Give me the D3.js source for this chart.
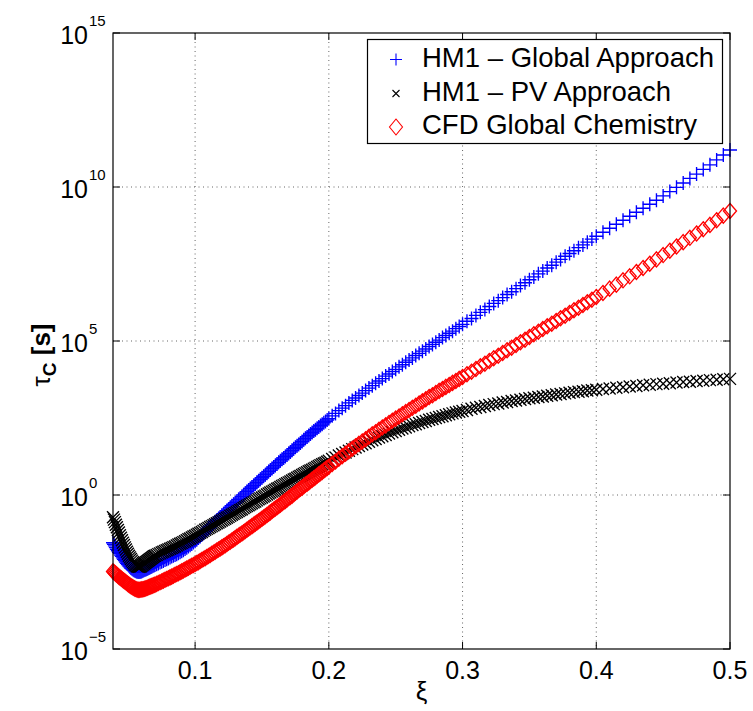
<!DOCTYPE html>
<html><head><meta charset="utf-8">
<script src="https://cdn.jsdelivr.net/npm/d3@7"></script>
<style>body{margin:0;background:#fff;} text{font-family:"Liberation Sans",Arial,Helvetica,sans-serif;}</style>
</head><body><svg id="chart" width="753" height="711"></svg>
<script>
// mixture fraction grid (shared by all series)
const xi = [
0.0386,0.0393,0.040,0.04075,0.0415,0.04225,0.043,0.04375,0.0445,0.04525,0.046,0.04675,0.0475,0.04825,0.049,0.04975,
0.0505,0.05125,0.052,0.05275,0.0535,0.05425,0.055,0.05575,0.0565,0.05725,0.058,0.05875,0.0595,0.06025,0.061,0.06175,
0.0625,0.06325,0.064,0.06475,0.0655,0.06625,0.067,0.06775,0.0685,0.06925,0.070,
0.07125,0.0725,0.07375,0.075,0.07625,0.0775,0.07875,0.080,
0.08125,0.0825,0.08375,0.085,0.08625,0.0875,0.08875,0.090,
0.09125,0.0925,0.09375,0.095,0.09625,0.0975,0.09875,0.100,
0.10125,0.1025,0.10375,0.105,0.10625,0.1075,0.10875,0.110,
0.11125,0.1125,0.11375,0.115,0.11625,0.1175,0.11875,0.120,
0.12125,0.1225,0.12375,0.125,0.12625,0.1275,0.12875,0.130,
0.13125,0.1325,0.13375,0.135,0.13625,0.1375,0.13875,0.140,
0.14125,0.1425,0.14375,0.145,0.14625,0.1475,0.14875,0.150,
0.15125,0.1525,0.15375,0.155,0.15625,0.1575,0.15875,0.160,
0.16125,0.1625,0.16375,0.165,0.16625,0.1675,0.16875,0.170,
0.17125,0.1725,0.17375,0.175,0.17625,0.1775,0.17875,0.180,
0.18125,0.1825,0.18375,0.185,0.18625,0.1875,0.18875,0.190,
0.19125,0.1925,0.19375,0.195,0.19625,0.1975,0.19875,0.200,
0.2025,0.205,0.2075,0.210,0.2125,0.215,0.2175,0.220,
0.2225,0.225,0.2275,0.230,0.2325,0.235,0.2375,0.240,0.2425,0.245,0.2475,0.250,
0.2525,0.255,0.2575,0.260,0.2625,0.265,0.2675,0.270,0.2725,0.275,0.2775,0.280,
0.2825,0.285,0.2875,0.290,0.2925,0.295,0.2975,0.300,
0.3033,0.3067,0.310,0.3133,0.3167,0.320,0.3233,0.3267,0.330,0.3333,0.3367,0.340,
0.3433,0.3467,0.350,0.3533,0.3567,0.360,0.3633,0.3667,0.370,0.3733,0.3767,0.380,
0.3833,0.3867,0.390,0.3933,0.3967,0.400,
0.405,0.410,0.415,0.420,0.425,0.430,0.435,0.440,0.445,0.450,0.455,0.460,0.465,0.470,0.475,0.480,0.485,0.490,0.495,0.500
];
// log10 of tau_C [s], HM1 global approach
const logTauGlobal = [
-1.55,-1.60,-1.65,-1.705,-1.76,-1.81,-1.86,-1.905,-1.95,-1.995,-2.04,-2.085,-2.13,-2.175,-2.22,-2.26,
-2.30,-2.335,-2.37,-2.395,-2.42,-2.44,-2.46,-2.475,-2.49,-2.495,-2.50,-2.495,-2.49,-2.475,-2.46,-2.445,
-2.43,-2.415,-2.40,-2.385,-2.37,-2.355,-2.34,-2.32,-2.30,-2.285,-2.27,
-2.245,-2.22,-2.195,-2.17,-2.14,-2.11,-2.085,-2.06,
-2.03,-2.00,-1.975,-1.95,-1.92,-1.89,-1.86,-1.83,
-1.79,-1.75,-1.71,-1.67,-1.63,-1.59,-1.545,-1.50,
-1.45,-1.40,-1.345,-1.29,-1.24,-1.19,-1.135,-1.08,
-1.03,-0.98,-0.925,-0.87,-0.82,-0.77,-0.715,-0.66,
-0.61,-0.56,-0.51,-0.46,-0.405,-0.35,-0.30,-0.25,
-0.20,-0.15,-0.10,-0.05,0.005,0.06,0.11,0.16,
0.21,0.26,0.31,0.36,0.41,0.46,0.51,0.56,
0.61,0.66,0.71,0.76,0.81,0.86,0.91,0.96,
1.01,1.06,1.11,1.16,1.205,1.25,1.30,1.35,
1.40,1.45,1.50,1.55,1.595,1.64,1.69,1.74,
1.79,1.84,1.885,1.93,1.98,2.03,2.075,2.12,
2.165,2.21,2.255,2.30,2.345,2.39,2.435,2.48,
2.57,2.65,2.74,2.82,2.90,2.99,3.07,3.15,
3.23,3.31,3.39,3.47,3.55,3.63,3.70,3.78,3.86,3.93,4.01,4.08,
4.16,4.23,4.31,4.38,4.45,4.53,4.60,4.67,4.74,4.82,4.89,4.96,
5.03,5.11,5.18,5.25,5.32,5.40,5.47,5.54,
5.64,5.73,5.83,5.93,6.02,6.12,6.22,6.31,6.41,6.51,6.60,6.70,
6.80,6.89,6.99,7.08,7.18,7.27,7.37,7.46,7.56,7.65,7.75,7.84,
7.93,8.03,8.12,8.21,8.31,8.40,
8.53,8.66,8.79,8.92,9.05,9.18,9.31,9.44,9.57,9.71,9.85,9.99,10.13,10.28,10.42,10.57,10.72,10.88,11.04,11.20
];
// HM1 PV approach
const logTauPV = [
-0.72,-0.80,-0.88,-0.965,-1.05,-1.135,-1.22,-1.305,-1.39,-1.47,-1.55,-1.625,-1.70,-1.77,-1.84,-1.905,
-1.97,-2.025,-2.08,-2.13,-2.18,-2.22,-2.26,-2.285,-2.31,-2.32,-2.33,-2.32,-2.31,-2.285,-2.26,-2.235,
-2.21,-2.185,-2.16,-2.135,-2.11,-2.085,-2.06,-2.035,-2.01,-1.99,-1.97,
-1.945,-1.92,-1.895,-1.87,-1.845,-1.82,-1.795,-1.77,
-1.745,-1.72,-1.695,-1.67,-1.64,-1.61,-1.585,-1.56,
-1.53,-1.50,-1.47,-1.44,-1.41,-1.38,-1.35,-1.32,
-1.29,-1.26,-1.23,-1.20,-1.165,-1.13,-1.10,-1.07,
-1.04,-1.01,-0.98,-0.95,-0.92,-0.89,-0.86,-0.83,
-0.80,-0.77,-0.74,-0.71,-0.675,-0.64,-0.61,-0.58,
-0.55,-0.52,-0.49,-0.46,-0.425,-0.39,-0.36,-0.33,
-0.30,-0.27,-0.24,-0.21,-0.175,-0.14,-0.11,-0.08,
-0.05,-0.02,0.015,0.05,0.08,0.11,0.14,0.17,
0.20,0.23,0.26,0.29,0.32,0.35,0.38,0.41,
0.44,0.47,0.50,0.53,0.56,0.59,0.62,0.65,
0.68,0.71,0.74,0.77,0.795,0.82,0.85,0.88,
0.91,0.94,0.97,1.00,1.025,1.05,1.08,1.11,
1.17,1.22,1.28,1.33,1.38,1.44,1.49,1.54,
1.59,1.64,1.68,1.73,1.78,1.82,1.87,1.91,1.95,2.00,2.04,2.08,
2.12,2.16,2.19,2.23,2.27,2.30,2.34,2.37,2.40,2.44,2.47,2.50,
2.53,2.56,2.59,2.62,2.65,2.68,2.70,2.73,
2.76,2.80,2.83,2.86,2.89,2.92,2.95,2.97,3.00,3.02,3.05,3.07,
3.09,3.12,3.14,3.16,3.18,3.20,3.22,3.24,3.26,3.28,3.30,3.32,
3.34,3.35,3.37,3.39,3.40,3.42,
3.44,3.46,3.48,3.50,3.52,3.54,3.56,3.58,3.60,3.61,3.63,3.65,3.67,3.68,3.70,3.71,3.73,3.74,3.76,3.77
];
// CFD global chemistry
const logTauCFD = [
-2.48,-2.505,-2.53,-2.56,-2.59,-2.62,-2.65,-2.675,-2.70,-2.73,-2.76,-2.785,-2.81,-2.835,-2.86,-2.885,
-2.91,-2.935,-2.96,-2.98,-3.00,-3.02,-3.04,-3.055,-3.07,-3.075,-3.08,-3.075,-3.07,-3.065,-3.06,-3.05,
-3.04,-3.03,-3.02,-3.005,-2.99,-2.975,-2.96,-2.95,-2.94,-2.925,-2.91,
-2.885,-2.86,-2.835,-2.81,-2.78,-2.75,-2.725,-2.70,
-2.675,-2.65,-2.62,-2.59,-2.565,-2.54,-2.51,-2.48,
-2.45,-2.42,-2.39,-2.36,-2.33,-2.30,-2.27,-2.24,
-2.21,-2.18,-2.145,-2.11,-2.08,-2.05,-2.015,-1.98,
-1.945,-1.91,-1.875,-1.84,-1.805,-1.77,-1.735,-1.70,
-1.665,-1.63,-1.59,-1.55,-1.515,-1.48,-1.44,-1.40,
-1.36,-1.32,-1.285,-1.25,-1.21,-1.17,-1.13,-1.09,
-1.05,-1.01,-0.97,-0.93,-0.89,-0.85,-0.81,-0.77,
-0.73,-0.69,-0.65,-0.61,-0.565,-0.52,-0.48,-0.44,
-0.40,-0.36,-0.315,-0.27,-0.23,-0.19,-0.145,-0.10,
-0.06,-0.02,0.025,0.07,0.115,0.16,0.20,0.24,
0.285,0.33,0.37,0.41,0.455,0.50,0.54,0.58,
0.625,0.67,0.71,0.75,0.795,0.84,0.88,0.92,
1.01,1.09,1.18,1.26,1.34,1.42,1.50,1.58,
1.66,1.74,1.81,1.89,1.97,2.04,2.12,2.19,2.26,2.34,2.41,2.48,
2.55,2.62,2.69,2.76,2.83,2.90,2.97,3.04,3.11,3.18,3.24,3.31,
3.38,3.44,3.51,3.57,3.64,3.70,3.77,3.83,
3.92,4.00,4.09,4.18,4.26,4.35,4.44,4.52,4.61,4.70,4.78,4.87,
4.96,5.04,5.13,5.22,5.30,5.39,5.48,5.56,5.65,5.74,5.82,5.91,
6.00,6.08,6.17,6.26,6.34,6.43,
6.56,6.70,6.83,6.97,7.10,7.24,7.37,7.51,7.65,7.79,7.93,8.07,8.21,8.35,8.49,8.63,8.77,8.92,9.07,9.22
];
const xTickValues = [0.1, 0.2, 0.3, 0.4, 0.5];
const yTickExponents = [-5, 0, 5, 10, 15];
const seriesNames = ["HM1 \u2013 Global Approach", "HM1 \u2013 PV Approach", "CFD Global Chemistry"];
const seriesColors = ["#0000ff", "#000000", "#ff0000"];
const seriesMarkers = ["plus", "cross", "diamond"];

const svg = d3.select("#chart");
const L = 113, R = 730, T = 33, B = 649;
const x = d3.scaleLinear().domain([0.0386, 0.5]).range([L, R]);
const y = d3.scaleLog().domain([1e-5, 1e15]).range([B, T]);

svg.append("rect").attr("width", 753).attr("height", 711).attr("fill", "#fff");

// grid
const grid = svg.append("g").attr("stroke", "#555").attr("stroke-width", 0.9).attr("stroke-dasharray", "1,3.5");
xTickValues.forEach(v => {
  if (x(v) < R - 1) grid.append("line").attr("x1", x(v)).attr("x2", x(v)).attr("y1", T).attr("y2", B);
});
yTickExponents.forEach(e => {
  const py = y(Math.pow(10, e));
  if (py > T + 1 && py < B - 1) grid.append("line").attr("x1", L).attr("x2", R).attr("y1", py).attr("y2", py);
});

function markerPath(type) {
  if (type === "plus") return "M-7,0H7M0,-7V7";
  if (type === "cross") return "M-6,-6L6,6M-6,6L6,-6";
  return "M0,-7.5L6.5,0L0,7.5L-6.5,0Z";
}

const series = [logTauGlobal, logTauPV, logTauCFD];
series.forEach((vals, i) => {
  const pts = xi.map((xv, k) => ({x: xv, tau: Math.pow(10, vals[k])}));
  svg.append("g").selectAll("path").data(pts).join("path")
    .attr("transform", d => `translate(${x(d.x)},${y(d.tau)})`)
    .attr("d", markerPath(seriesMarkers[i]))
    .attr("fill", "none")
    .attr("stroke", seriesColors[i])
    .attr("stroke-width", 1.35);
});

// axes with inward ticks
const tickLen = 7;
const axG = svg.append("g").attr("stroke", "#000").attr("stroke-width", 1);
xTickValues.forEach(v => {
  const px = x(v);
  axG.append("line").attr("x1", px).attr("x2", px).attr("y1", B).attr("y2", B - tickLen);
  axG.append("line").attr("x1", px).attr("x2", px).attr("y1", T).attr("y2", T + tickLen);
});
yTickExponents.forEach(e => {
  const py = y(Math.pow(10, e));
  axG.append("line").attr("x1", L).attr("x2", L + tickLen).attr("y1", py).attr("y2", py);
  axG.append("line").attr("x1", R).attr("x2", R - tickLen).attr("y1", py).attr("y2", py);
});
svg.append("rect").attr("x", L).attr("y", T).attr("width", R - L).attr("height", B - T)
  .attr("fill", "none").attr("stroke", "#000").attr("stroke-width", 1.2);

// tick labels
xTickValues.forEach(v => {
  svg.append("text").attr("x", x(v)).attr("y", 679).attr("text-anchor", "middle")
    .attr("font-size", 25).text(d3.format(".1f")(v));
});
yTickExponents.forEach(e => {
  const py = y(Math.pow(10, e));
  svg.append("text").attr("x", 88).attr("y", py + 10.5).attr("text-anchor", "end")
    .attr("font-size", 25).text("10");
  svg.append("text").attr("x", 89).attr("y", py - 7.5).attr("text-anchor", "start")
    .attr("font-size", 15).text(e < 0 ? "\u2212" + Math.abs(e) : String(e));
});

// axis labels
svg.append("text").attr("x", 421.5).attr("y", 700).attr("text-anchor", "middle")
  .attr("font-size", 26).text("\u03be");
const yl = svg.append("text").attr("transform", "translate(50,355) rotate(-90)")
  .attr("text-anchor", "middle").attr("font-size", 26);
yl.append("tspan").text("\u03c4");
yl.append("tspan").attr("font-weight", "bold").attr("font-size", 19).attr("dy", 6).text("C");
yl.append("tspan").attr("font-weight", "bold").attr("dy", -6).text(" [s]");

// legend
const lg = svg.append("g");
lg.append("rect").attr("x", 367.5).attr("y", 39.5).attr("width", 355).attr("height", 104)
  .attr("fill", "#fff").attr("stroke", "#000").attr("stroke-width", 1.2);
const rowY = [59.5, 93.5, 127];
const baseY = [67, 101, 134];
const legendMarker = ["M-6,0H6M0,-6V6", "M-3.5,-3.5L3.5,3.5M-3.5,3.5L3.5,-3.5", "M0,-8L6.5,0L0,8L-6.5,0Z"];
seriesNames.forEach((name, i) => {
  lg.append("path").attr("transform", `translate(396,${rowY[i]})`).attr("d", legendMarker[i])
    .attr("fill", "none").attr("stroke", seriesColors[i]).attr("stroke-width", 1.1);
  lg.append("text").attr("x", 422).attr("y", baseY[i]).attr("font-size", 27.5).text(name);
});
</script></body></html>
